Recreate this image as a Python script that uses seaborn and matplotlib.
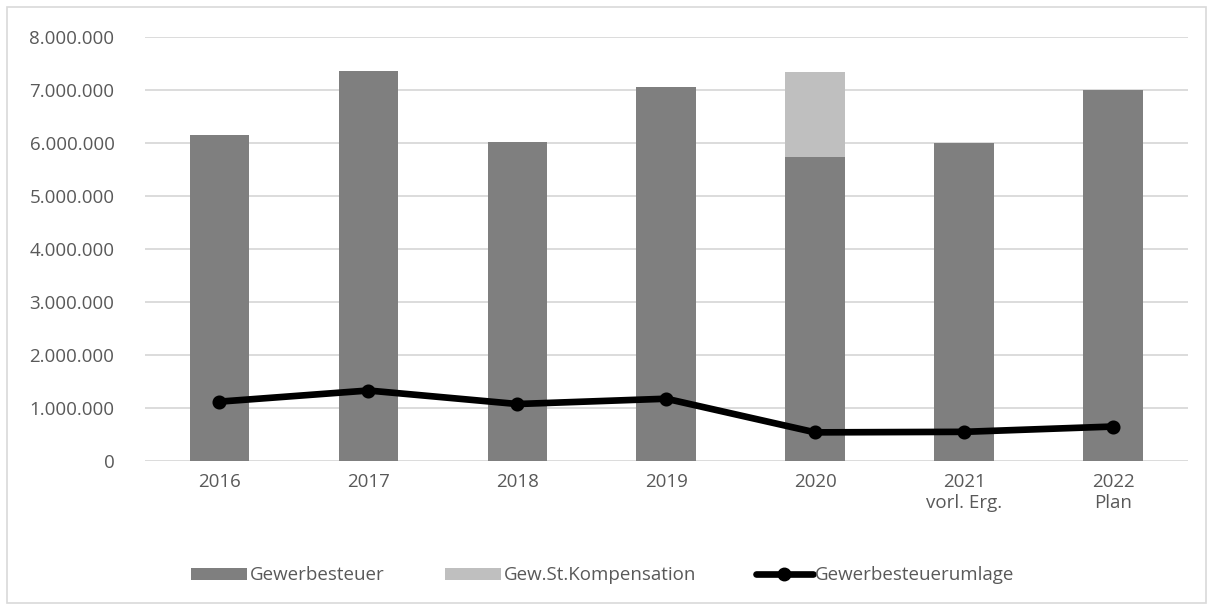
import matplotlib
matplotlib.use("Agg")
import matplotlib.pyplot as plt
import seaborn as sns
import pandas as pd
from matplotlib.patches import Patch, Rectangle
from matplotlib.lines import Line2D
from matplotlib.ticker import FuncFormatter, MultipleLocator

categories = ["2016", "2017", "2018", "2019", "2020", "2021\nvorl. Erg.", "2022\nPlan"]
gewerbesteuer = [6145000, 7360000, 6020000, 7050000, 5740000, 6000000, 7000000]
kompensation = [0, 0, 0, 0, 1600000, 0, 0]
umlage = [1120000, 1330000, 1075000, 1175000, 540000, 550000, 650000]

sns.set_theme(style="white")
plt.rcParams["font.family"] = ["Open Sans", "DejaVu Sans"]

df = pd.DataFrame({
    "cat": categories,
    "gew": gewerbesteuer,
    "total": [g + k for g, k in zip(gewerbesteuer, kompensation)],
    "uml": umlage,
})

fig = plt.figure(figsize=(12.13, 6.08), dpi=100)
ax = fig.add_axes([0.1195, 0.2418, 0.979 - 0.1195, 0.939 - 0.2418])

sns.barplot(data=df, x="cat", y="total", order=categories, color="#bfbfbf",
            saturation=1, width=0.4, linewidth=0, ax=ax, zorder=2)
sns.barplot(data=df, x="cat", y="gew", order=categories, color="#7f7f7f",
            saturation=1, width=0.4, linewidth=0, ax=ax, zorder=3)
sns.pointplot(data=df, x="cat", y="uml", order=categories, color="black",
              markers="o", markersize=6.5, linewidth=4.8, ax=ax, zorder=4)

ax.set_ylim(0, 8000000)
ax.set_xlim(-0.5, len(categories) - 0.5)
ax.yaxis.set_major_locator(MultipleLocator(1000000))
ax.yaxis.set_major_formatter(FuncFormatter(lambda v, p: f"{int(round(v)):,}".replace(",", ".")))
ax.grid(axis="y", color="#d9d9d9", linewidth=1.3, zorder=0)
ax.set_axisbelow(True)
for s in ax.spines.values():
    s.set_visible(False)
ax.set_xlabel("")
ax.set_ylabel("")
ax.tick_params(axis="both", length=0, labelsize=13.5, colors="#595959")
ax.tick_params(axis="y", pad=22)
ax.tick_params(axis="x", pad=9)

handles = [
    Patch(facecolor="#7f7f7f", edgecolor="none"),
    Patch(facecolor="#bfbfbf", edgecolor="none"),
    Line2D([0], [0], color="black", linewidth=4.8, marker="o", markersize=9),
]
labels = ["Gewerbesteuer", "Gew.St.Kompensation", "Gewerbesteuerumlage"]
fig.legend(handles, labels, loc="center", bbox_to_anchor=(0.497, 0.054), ncol=3,
           frameon=False, fontsize=13.5, labelcolor="#595959", handlelength=3.0,
           handleheight=0.6, handletextpad=0.15, columnspacing=3.2)

fig.patches.append(Rectangle((0.006, 0.008), 0.988, 0.981, transform=fig.transFigure,
                             fill=False, edgecolor="#d9d9d9", linewidth=1.2))

fig.savefig("out.png", dpi=100)
